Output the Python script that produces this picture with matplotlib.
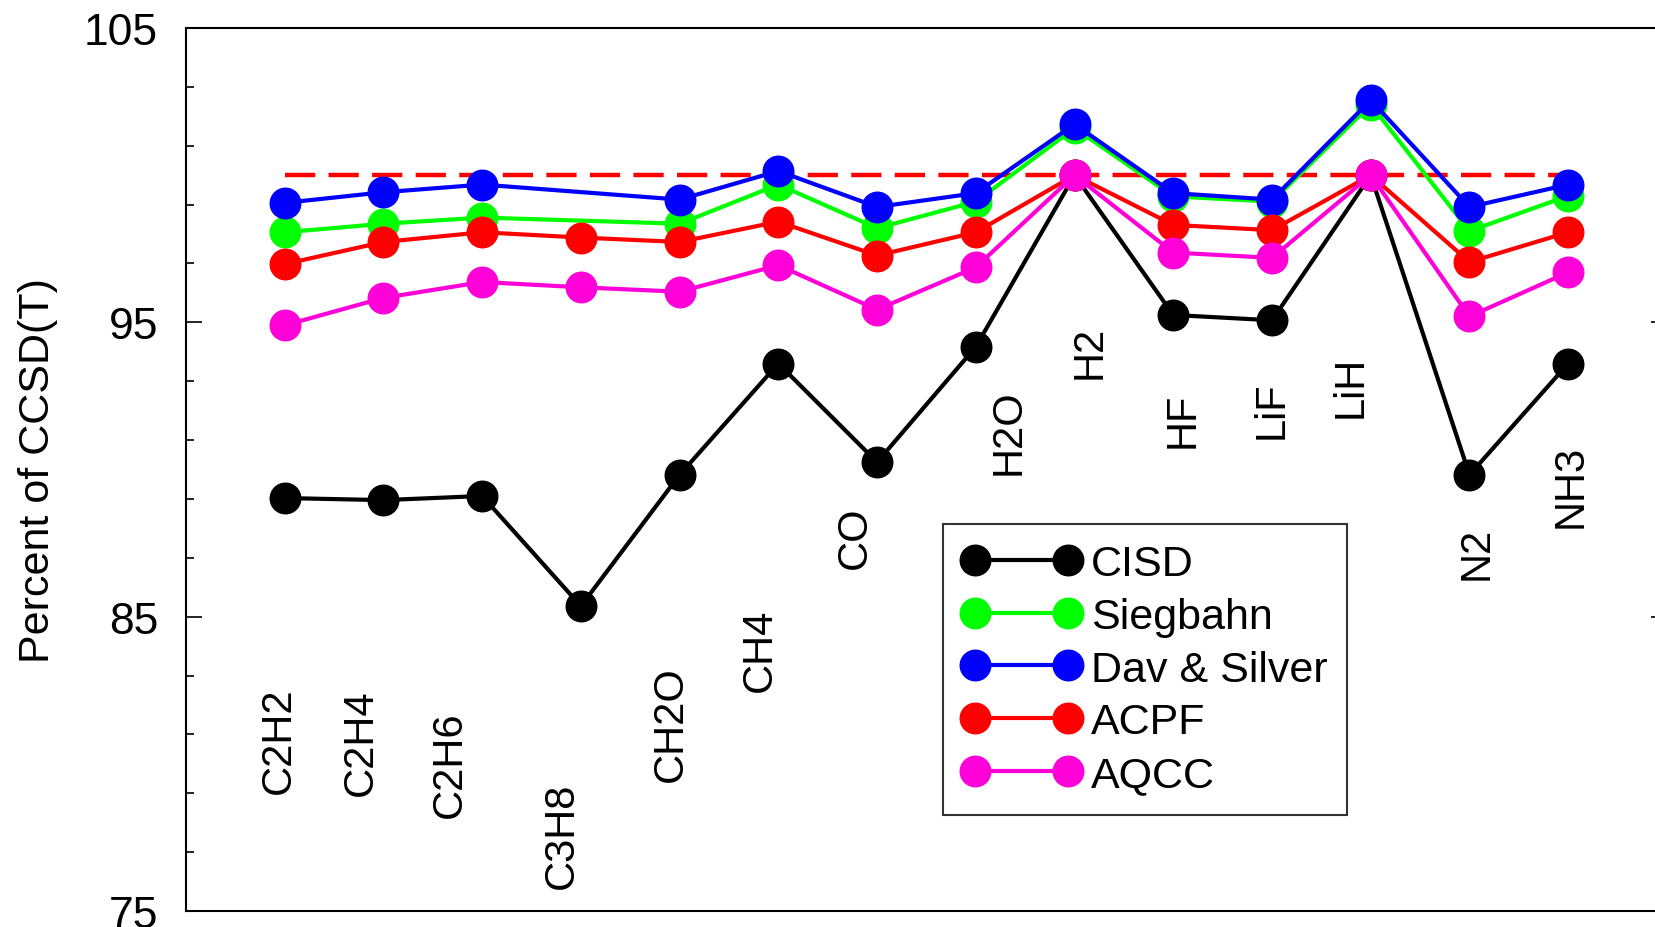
import numpy as np
import matplotlib
matplotlib.use("Agg")
import matplotlib.pyplot as plt

plt.rcParams['font.family'] = ['Liberation Sans', 'DejaVu Sans']

molecules = ["C2H2", "C2H4", "C2H6", "C3H8", "CH2O", "CH4", "CO", "H2O",
             "H2", "HF", "LiF", "LiH", "N2", "NH3"]

cisd = [89.03, 88.96, 89.1, 85.36, 89.82, 93.6, 90.25, 94.17, 100.0, 95.25, 95.07, 100.0, 89.82, 93.6]
siegbahn = [98.06, 98.35, 98.56, np.nan, 98.35, 99.68, 98.2, 99.1, 101.6, 99.28, 99.1, 102.4, 98.1, 99.3]
dav_silver = [99.06, 99.42, 99.68, np.nan, 99.17, 100.14, 98.92, 99.39, 101.73, 99.39, 99.17, 102.55, 98.92, 99.68]
acpf = [96.98, 97.73, 98.06, 97.88, 97.73, 98.42, 97.27, 98.06, 100.0, 98.31, 98.13, 100.0, 97.05, 98.06]
aqcc = [94.9, 95.83, 96.37, 96.19, 96.04, 96.94, 95.43, 96.87, 100.0, 97.37, 97.19, 100.0, 95.2, 96.7]

series_names = ["CISD", "Siegbahn", "Dav & Silver", "ACPF", "AQCC"]
series_colors = ["#000000", "#00ff00", "#0000ff", "#ff0000", "#ff00d8"]
reference_level = 100.0

# label placement (data coords, centre of rotated text)
label_x = [0.94, 1.77, 2.67, 3.81, 4.91, 5.81, 6.77, 8.33, 9.15, 10.09, 11.0, 11.8, 13.07, 14.02]
label_y = [80.83, 80.76, 80.0, 77.6, 81.4, 83.9, 87.7, 91.3, 94.0, 91.7, 92.05, 92.84, 87.2, 89.46]

fig = plt.figure(figsize=(16.56, 9.28), dpi=100)
ax = fig.add_axes([0.1123, 0.01724, 0.8943, 0.95151])

x = np.arange(1, len(molecules) + 1)

ax.plot([x[0], x[-1]], [reference_level, reference_level], color="#ff0000",
        lw=3.2, dashes=(6.8, 3.0), zorder=1)

for name, vals, col in zip(series_names, [cisd, siegbahn, dav_silver, acpf, aqcc], series_colors):
    v = np.asarray(vals, dtype=float)
    m = ~np.isnan(v)
    ax.plot(x[m], v[m], color=col, lw=3.0, marker='o', markersize=22,
            markerfacecolor=col, markeredgecolor=col, label=name, zorder=2)

for lx, ly, t in zip(label_x, label_y, molecules):
    ax.text(lx, ly, t, rotation=90, ha='center', va='center', fontsize=30)

ax.set_xlim(0, 15)
ax.set_ylim(75, 105)
ax.set_xticks([])
ax.set_yticks([75, 85, 95, 105])
ax.set_yticks(np.arange(75, 106, 2), minor=True)
ax.tick_params(axis='y', which='major', direction='in', length=11.5, width=1.2,
               labelsize=32, pad=20, left=True, right=True)
ax.tick_params(axis='y', which='minor', direction='in', length=5.8, width=1.2,
               left=True, right=True)
for s in ax.spines.values():
    s.set_linewidth(1.5)

ax.set_ylabel("Percent of CCSD(T)", fontsize=31)
ax.yaxis.set_label_coords(-0.0865, 0.5)

leg = ax.legend(loc='lower left', bbox_to_anchor=(0.511, 0.109),
                fontsize=31, numpoints=2, handlelength=2.75,
                handletextpad=0.25, labelspacing=0.3, borderpad=0.45,
                fancybox=False, frameon=True, borderaxespad=0)
leg.get_frame().set_edgecolor('black')
leg.get_frame().set_linewidth(1.5)

fig.savefig("out.png", dpi=100)
